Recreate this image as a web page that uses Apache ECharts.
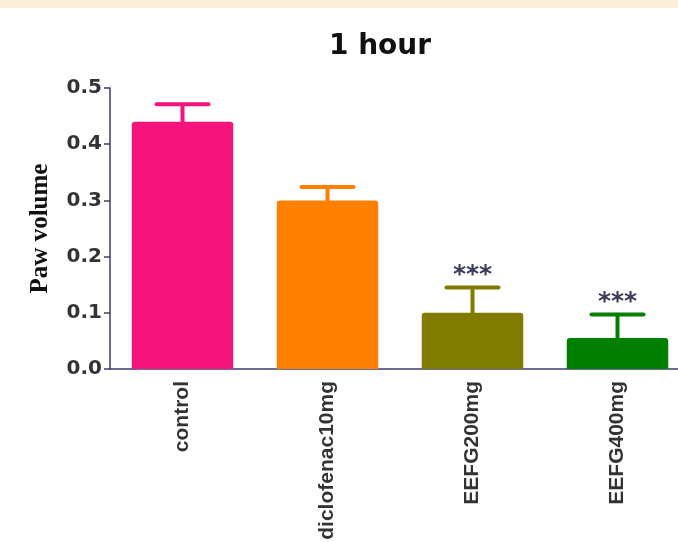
<!DOCTYPE html>
<html>
<head>
<meta charset="utf-8">
<script src="https://cdn.jsdelivr.net/npm/echarts@6/dist/echarts.min.js"></script>
<style>
html,body{margin:0;padding:0;background:#fff;}
#c{width:678px;height:542px;}
</style>
</head>
<body>
<div id="c"></div>
<script>
var categories = ['control', 'diclofenac10mg', 'EEFG200mg', 'EEFG400mg'];
var means = [0.44, 0.30, 0.10, 0.055];
var errors = [0.031, 0.024, 0.045, 0.042];
var significance = ['', '', '***', '***'];
var colors = ['#f4147c', '#fe8000', '#817b00', '#007f00'];
var yTicks = [0, 0.1, 0.2, 0.3, 0.4, 0.5];

var chart = echarts.init(document.getElementById('c'));
var axisColor = '#3c3c70';

chart.setOption({
  backgroundColor: '#ffffff',
  animation: false,
  title: {
    text: '1 hour',
    left: 380,
    textAlign: 'center',
    top: 33,
    padding: 0,
    textStyle: { fontFamily: 'DejaVu Sans, sans-serif', fontWeight: 'bold', fontSize: 28, color: '#111' }
  },
  graphic: [{
    type: 'rect', left: 0, top: 0, silent: true,
    shape: { width: 678, height: 8 },
    style: { fill: '#fcefd8' }
  }],
  grid: { left: 110, width: 580, top: 88, bottom: 173, containLabel: false, outerBoundsMode: 'none' },
  xAxis: {
    type: 'category',
    data: categories,
    axisLine: { lineStyle: { color: axisColor, width: 1.5 } },
    axisTick: { alignWithLabel: true, length: 6, lineStyle: { color: axisColor, width: 1.5 } },
    axisLabel: {
      rotate: 90, interval: 0, margin: 12,
      fontFamily: 'Liberation Sans, Arial, sans-serif', fontWeight: 'bold', fontSize: 21, color: '#333'
    }
  },
  yAxis: {
    type: 'value',
    min: yTicks[0], max: yTicks[yTicks.length - 1], interval: 0.1,
    name: 'Paw volume',
    nameLocation: 'middle',
    nameGap: 57,
    nameRotate: 90,
    nameTextStyle: { fontFamily: 'Liberation Serif, Times New Roman, serif', fontWeight: 'bold', fontSize: 25, color: '#111' },
    splitLine: { show: false },
    axisLine: { show: true, lineStyle: { color: axisColor, width: 1.5 } },
    axisTick: { show: true, length: 6, lineStyle: { color: axisColor, width: 1.5 } },
    axisLabel: {
      margin: 8,
      fontFamily: 'DejaVu Sans, sans-serif', fontWeight: 'bold', fontSize: 20, color: '#333',
      formatter: function (v) { return v.toFixed(1); }
    }
  },
  series: [{
    type: 'bar',
    barWidth: '70%',
    data: means.map(function (v, i) {
      return { value: v, itemStyle: { color: colors[i], borderRadius: [3, 3, 0, 0] } };
    }),
    z: 3
  }, {
    type: 'custom',
    z: 2,
    data: means.map(function (v, i) { return [i, v, v + errors[i]]; }),
    renderItem: function (params, api) {
      var i = api.value(0);
      var base = api.coord([i, api.value(1)]);
      var top = api.coord([i, api.value(2)]);
      var half = 26;
      var col = colors[i];
      var children = [
        { type: 'line', shape: { x1: base[0], y1: base[1] + 2, x2: top[0], y2: top[1] },
          style: { stroke: col, lineWidth: 4 } },
        { type: 'line', shape: { x1: top[0] - half, y1: top[1], x2: top[0] + half, y2: top[1] },
          style: { stroke: col, lineWidth: 4, lineCap: 'round' } }
      ];
      if (significance[i]) {
        children.push({
          type: 'text',
          style: {
            x: top[0], y: top[1] - 12, text: significance[i],
            textAlign: 'center', textVerticalAlign: 'middle',
            fontFamily: 'DejaVu Sans, sans-serif', fontWeight: 'bold', fontSize: 25,
            fill: '#3a3a5a'
          }
        });
      }
      return { type: 'group', children: children };
    }
  }]
});
</script>
</body>
</html>
